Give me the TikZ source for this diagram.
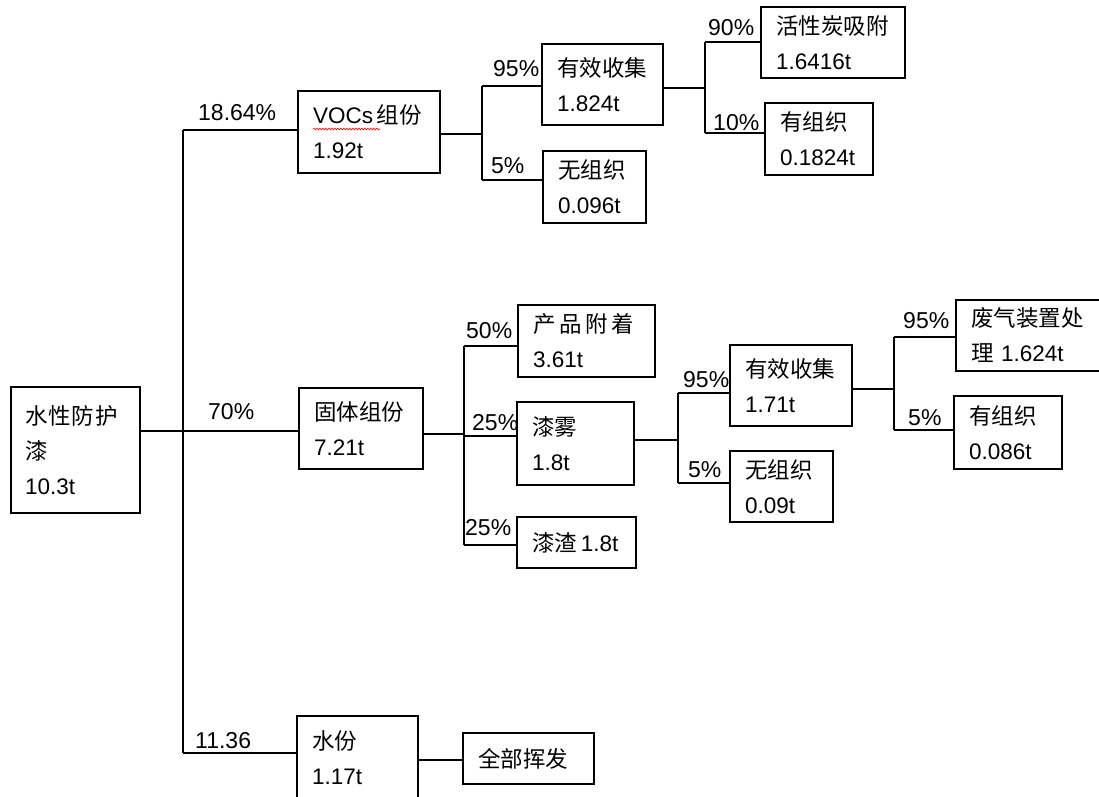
\documentclass[tikz,border=0pt]{standalone}
\usepackage{fontspec}
\setmainfont{Liberation Sans}
\newfontfamily\cjk{Noto Sans CJK SC}
\usetikzlibrary{decorations.pathmorphing}
\tikzset{
  box/.style={draw, line width=1.4pt, inner sep=0pt, align=left,
    font=\fontsize{22.5}{35}\selectfont},
  pct/.style={anchor=base west, inner sep=0pt, font=\fontsize{23}{26}\selectfont},
  link/.style={line width=1.4pt}
}
\begin{document}
\begin{tikzpicture}[x=1pt,y=-1pt]
\useasboundingbox (0,0) rectangle (1099,796);
% boxes
\node[box, minimum width=129, minimum height=126, text width=101] (root) at (75.5,450) {{\cjk 水\kern1pt 性\kern1pt 防\kern1pt 护}\\{\cjk 漆}\\10.3t};
\node[box, minimum width=142, minimum height=82, text width=112] (voc) at (369,132) {\mbox{VOCs\,{\cjk 组份}}\\1.92t};
\node[box, minimum width=121, minimum height=81, text width=91] (eff1) at (602.5,84.5) {{\cjk 有效收集}\\1.824t};
\node[box, minimum width=103, minimum height=72, text width=73] (unorg1) at (594.5,187) {{\cjk 无组织}\\0.096t};
\node[box, minimum width=144, minimum height=71, text width=114] (act) at (833,42.5) {{\cjk 活性炭吸附}\\1.6416t};
\node[box, minimum width=108, minimum height=72, text width=78] (org1) at (819,139) {{\cjk 有组织}\\0.1824t};
\node[box, minimum width=124, minimum height=81, text width=94] (solid) at (361,428.5) {{\cjk 固体组份}\\7.21t};
\node[box, minimum width=137, minimum height=72, text width=107] (prod) at (586.5,341) {{\cjk 产\,品\,附\,着}\\3.61t};
\node[box, minimum width=117, minimum height=83, text width=87] (mist) at (575.5,443.5) {{\cjk 漆雾}\\1.8t};
\node[box, minimum width=122, minimum height=81, text width=92] (eff2) at (791,385.5) {{\cjk 有效收集}\\1.71t};
\node[box, minimum width=103, minimum height=71, text width=73] (unorg2) at (781.5,486.5) {{\cjk 无组织}\\0.09t};
\node[box, minimum width=119, minimum height=51, text width=89] (slag) at (576.5,542.5) {\mbox{{\cjk 漆渣}\,1.8t}};
\node[box, minimum width=145, minimum height=71, text width=115] (waste) at (1028.5,335.5) {{\cjk 废气装置处}\\\mbox{{\cjk 理} 1.624t}};
\node[box, minimum width=108, minimum height=73, text width=78] (org2) at (1008,432.5) {{\cjk 有组织}\\0.086t};
\node[box, minimum width=121, minimum height=84, text width=91] (water) at (357.5,758) {{\cjk 水份}\\1.17t};
\node[box, minimum width=131, minimum height=51, text width=101] (evap) at (528.5,758.5) {{\cjk 全部挥发}};
% spell-check underline
\draw[red, line width=0.6pt, decorate, decoration={snake, amplitude=0.9pt, segment length=3pt}] (313,129) -- (380,129);
% junction coordinates
\coordinate (t0) at (183,130);
\coordinate (t1) at (183,431);
\coordinate (t2) at (183,753);
\coordinate (v0) at (482,86);
\coordinate (vm) at (482,134);
\coordinate (v1) at (482,180);
\coordinate (e0) at (705,42);
\coordinate (em) at (705,88);
\coordinate (e1) at (705,133);
\coordinate (s0) at (464,346);
\coordinate (sm) at (464,434);
\coordinate (s1) at (464,436);
\coordinate (s2) at (464,545);
\coordinate (m0) at (678,393);
\coordinate (mm) at (678,440);
\coordinate (m1) at (678,483);
\coordinate (f0) at (894,337);
\coordinate (fm) at (894,389);
\coordinate (f1) at (894,430);
\coordinate (wm) at (418,760);
% connectors
\draw[link] (root.east |- t1) -- (t1);
\draw[link] (t0) -- (t2);
\draw[link] (t0) -- (voc.west |- t0);
\draw[link] (t1) -- (solid.west |- t1);
\draw[link] (t2) -- (water.west |- t2);
\draw[link] (voc.east |- vm) -- (vm);
\draw[link] (v0) -- (v1);
\draw[link] (v0) -- (eff1.west |- v0);
\draw[link] (v1) -- (unorg1.west |- v1);
\draw[link] (eff1.east |- em) -- (em);
\draw[link] (e0) -- (e1);
\draw[link] (e0) -- (act.west |- e0);
\draw[link] (e1) -- (org1.west |- e1);
\draw[link] (solid.east |- sm) -- (sm);
\draw[link] (s0) -- (s2);
\draw[link] (s0) -- (prod.west |- s0);
\draw[link] (s1) -- (mist.west |- s1);
\draw[link] (s2) -- (slag.west |- s2);
\draw[link] (mist.east |- mm) -- (mm);
\draw[link] (m0) -- (m1);
\draw[link] (m0) -- (eff2.west |- m0);
\draw[link] (m1) -- (unorg2.west |- m1);
\draw[link] (eff2.east |- fm) -- (fm);
\draw[link] (f0) -- (f1);
\draw[link] (f0) -- (waste.west |- f0);
\draw[link] (f1) -- (org2.west |- f1);
\draw[link] (water.east |- wm) -- (evap.west |- wm);
% percentage labels
\node[pct] (l1) at (198,120) {18.64\%};
\node[pct] (l2) at (493,76) {95\%};
\node[pct] (l3) at (491,173) {5\%};
\node[pct] (l4) at (708,35) {90\%};
\node[pct] (l5) at (713,130) {10\%};
\node[pct] (l6) at (208,419) {70\%};
\node[pct] (l7) at (466,338) {50\%};
\node[pct] (l8) at (472,430) {25\%};
\node[pct] (l9) at (465,535) {25\%};
\node[pct] (l10) at (683,387) {95\%};
\node[pct] (l11) at (688,477) {5\%};
\node[pct] (l12) at (903,328) {95\%};
\node[pct] (l13) at (908,425) {5\%};
\node[pct] (l14) at (195,748) {11.36};
\end{tikzpicture}
\end{document}
